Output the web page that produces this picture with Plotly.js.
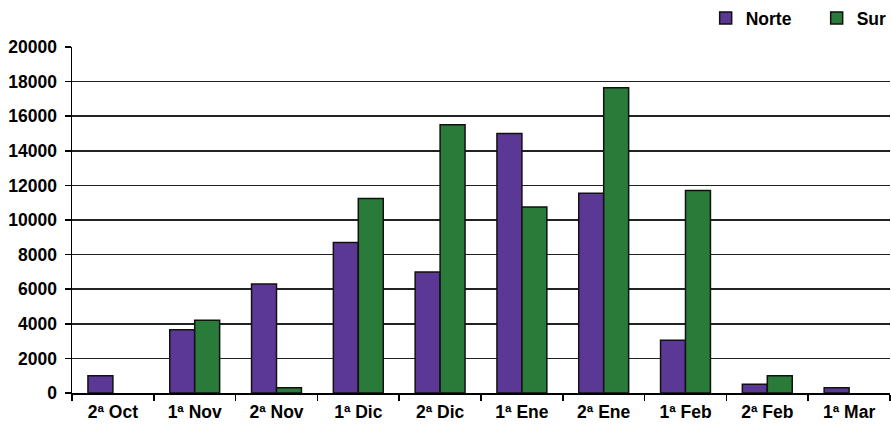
<!DOCTYPE html>
<html>
<head>
<meta charset="utf-8">
<script src="https://cdn.plot.ly/plotly-3.0.1.min.js"></script>
<style>html,body{margin:0;padding:0;background:#fff;}#chart{width:891px;height:427px;}</style>
</head>
<body>
<div id="chart"></div>
<script>
const categories = ["2ª Oct","1ª Nov","2ª Nov","1ª Dic","2ª Dic","1ª Ene","2ª Ene","1ª Feb","2ª Feb","1ª Mar"];
const norte = [1000, 3650, 6300, 8700, 7000, 15000, 11550, 3050, 500, 300];
const sur = [null, 4200, 300, 11250, 15500, 10750, 17650, 11700, 1000, null];
const yTicks = [0,2000,4000,6000,8000,10000,12000,14000,16000,18000,20000];

const font = {family: "Liberation Sans, Arial, sans-serif", size: 17.5, color: "#000", weight: "bold"};
const line = {color: "#111", width: 1.5};

const traces = [
  {type: "bar", name: "Norte", x: categories, y: norte, marker: {color: "#5c3896", line: line}},
  {type: "bar", name: "Sur", x: categories, y: sur, marker: {color: "#2a7a3a", line: line}}
];

const layout = {
  width: 891, height: 427,
  margin: {l: 72, r: 1, t: 47, b: 34},
  paper_bgcolor: "#fff", plot_bgcolor: "#fff",
  font: font,
  barmode: "group", bargap: 0.39, bargroupgap: 0,
  showlegend: true,
  legend: {orientation: "h", xref: "container", yref: "container", x: 0.792, xanchor: "left", y: 1, yanchor: "top",
           font: font, itemwidth: 30, entrywidth: 66, traceorder: "normal"},
  xaxis: {
    type: "category", showline: true, linecolor: "#000", linewidth: 1.5,
    ticks: "outside", tickson: "boundaries", ticklen: 6, tickcolor: "#000", tickwidth: 1.5,
    ticklabelstandoff: 2,
    tickfont: font, showgrid: false, fixedrange: true, automargin: false
  },
  yaxis: {
    range: [0, 20000], tickvals: yTicks, ticktext: yTicks.map(String),
    showline: true, linecolor: "#000", linewidth: 1.5,
    ticks: "outside", ticklen: 6, tickcolor: "#000", tickwidth: 1.5,
    ticklabelstandoff: 4,
    showgrid: true, gridcolor: "#222", gridwidth: 1.5, zeroline: false,
    tickfont: font, fixedrange: true, automargin: false
  }
};

Plotly.newPlot("chart", traces, layout, {displayModeBar: false, staticPlot: true});
</script>
</body>
</html>
